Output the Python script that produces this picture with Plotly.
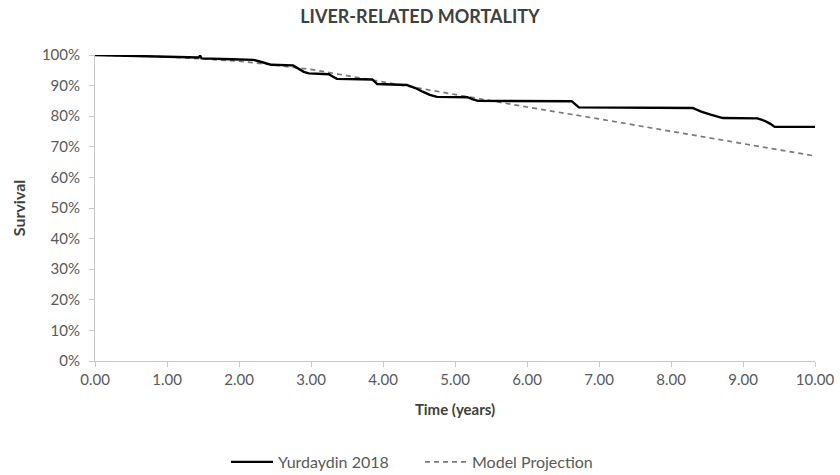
import plotly.graph_objects as go

# Kaplan-Meier style observed survival (Yurdaydin 2018)
km_time = [0.00, 1.00, 1.44, 1.46, 1.48, 1.90, 2.20, 2.30, 2.38, 2.45, 2.75, 2.82, 2.90, 2.97,
           3.25, 3.30, 3.36, 3.85, 3.92, 4.33, 4.45, 4.55, 4.65, 4.75, 5.17, 5.25, 5.32,
           6.62, 6.72, 8.30, 8.42, 8.55, 8.65, 8.72, 9.20, 9.30, 9.38, 9.44, 10.00]
km_surv = [1.000, 0.996, 0.992, 0.998, 0.989, 0.986, 0.984, 0.978, 0.972, 0.968, 0.966, 0.955,
           0.945, 0.940, 0.937, 0.930, 0.922, 0.920, 0.905, 0.902, 0.892, 0.880, 0.870, 0.863,
           0.862, 0.855, 0.850, 0.849, 0.829, 0.827, 0.815, 0.805, 0.798, 0.794, 0.793, 0.785,
           0.775, 0.765, 0.765]

# Model projection (yearly points)
model_time = [0, 1, 2, 3, 4, 5, 6, 7, 8, 9, 10]
model_surv = [1.000, 0.994, 0.980, 0.953, 0.912, 0.870, 0.830, 0.791, 0.751, 0.711, 0.670]

x_ticks = [0, 1, 2, 3, 4, 5, 6, 7, 8, 9, 10]
x_ticklabels = [f"{v:.2f}" for v in x_ticks]
y_ticks = [i / 10 for i in range(11)]
y_ticklabels = [f"{i * 10}%" for i in range(11)]

font_family = "Lato, 'Open Sans', sans-serif"
axis_grey = "#c8c8c8"
text_grey = "#595959"
title_grey = "#404040"

fig = go.Figure()

fig.add_trace(go.Scatter(
    x=model_time, y=model_surv, mode="lines", name="Model Projection",
    line=dict(color="#7a7a7a", width=1.7, dash="5px,4px"),
    legendrank=2,
))
fig.add_trace(go.Scatter(
    x=km_time, y=km_surv, mode="lines", name="Yurdaydin 2018",
    line=dict(color="#000000", width=2.4),
    legendrank=1,
))

fig.update_layout(
    width=840, height=475,
    margin=dict(l=95, r=25, t=55, b=114, autoexpand=False),
    paper_bgcolor="white", plot_bgcolor="white",
    font=dict(family=font_family, size=15, color=text_grey),
    title=dict(
        text="<b>LIVER-RELATED MORTALITY</b>",
        x=0.5, xref="container", xanchor="center",
        y=1 - 17 / 475, yanchor="middle",
        font=dict(family=font_family, size=18, color=title_grey),
    ),
    showlegend=True,
    legend=dict(
        orientation="h", xref="container", x=0.5, xanchor="center",
        yref="container", y=13 / 475, yanchor="middle",
        font=dict(family=font_family, size=16, color=text_grey),
        traceorder="normal", itemwidth=42, entrywidth=137,
    ),
    xaxis=dict(
        range=[0, 10], tickvals=x_ticks, ticktext=x_ticklabels,
        showgrid=False, zeroline=False, automargin=False,
        showline=True, linecolor=axis_grey, linewidth=1,
        ticks="outside", ticklen=5, tickcolor=axis_grey,
        title=dict(text="<b>Time (years)</b>", standoff=17,
                   font=dict(family=font_family, size=15, color=title_grey)),
    ),
    yaxis=dict(
        range=[0, 1], tickvals=y_ticks, ticktext=y_ticklabels,
        showgrid=False, zeroline=False, automargin=False,
        showline=True, linecolor=axis_grey, linewidth=1,
        ticks="outside", ticklen=5, tickcolor=axis_grey,
        ticklabelstandoff=6,
        title=dict(text="<b>Survival</b>", standoff=12,
                   font=dict(family=font_family, size=16, color=title_grey)),
    ),
)

fig.write_html("out.html")
